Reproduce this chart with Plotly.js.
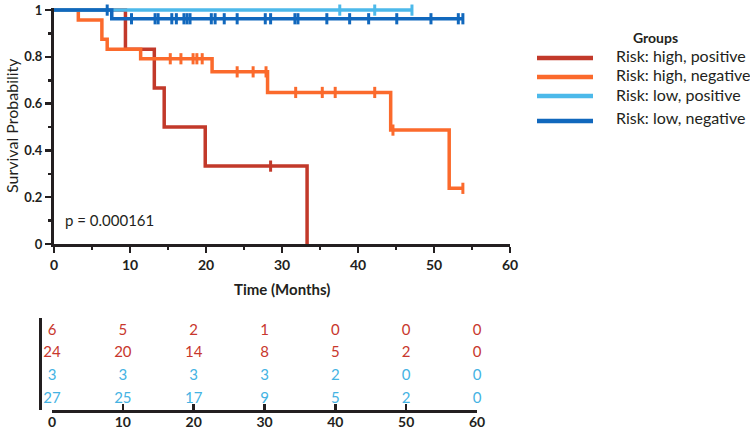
<!DOCTYPE html>
<html>
<head>
<meta charset="utf-8">
<script src="https://cdn.plot.ly/plotly-3.0.1.min.js"></script>
<style>html,body{margin:0;padding:0;background:#fff;}#chart{width:750px;height:430px;}</style>
</head>
<body>
<div id="chart"></div>
<script>
// ---- Data ----
const groupNames = ["Risk: high, positive", "Risk: high, negative", "Risk: low, positive", "Risk: low, negative"];

// Risk: high, positive
const hpTime = [0, 9.4, 13.2, 14.5, 19.9, 33.3];
const hpSurv = [1, 0.833, 0.667, 0.5, 0.333, 0];
const hpCens = [28.5];

// Risk: high, negative
const hnTime = [0, 3.2, 6.3, 7.0, 11.4, 20.8, 28.1, 44.3, 52.0];
const hnSurv = [1, 0.958, 0.875, 0.833, 0.792, 0.736, 0.648, 0.487, 0.238];
const hnCens = [15.3, 16.7, 18.3, 18.8, 19.5, 24.1, 26.2, 27.9, 31.8, 35.3, 37.0, 42.2, 44.6, 53.8];

// Risk: low, positive
const lpTime = [0];
const lpSurv = [1];
const lpCens = [37.6, 42.2, 47.1];

// Risk: low, negative
const lnTime = [0, 7.6];
const lnSurv = [1, 0.963];
const lnCens = [7.0, 10.2, 13.3, 13.7, 15.5, 16.1, 17.1, 17.5, 17.9, 20.7, 21.2, 22.4, 24.1, 27.8, 28.5, 31.7, 32.1, 35.9, 38.9, 41.4, 45.1, 49.6, 53.2, 53.8];

// Numbers at risk table
const riskTimes = [0, 10, 20, 30, 40, 50, 60];
const riskHP = [6, 5, 2, 1, 0, 0, 0];
const riskHN = [24, 20, 14, 8, 5, 2, 0];
const riskLP = [3, 3, 3, 3, 2, 0, 0];
const riskLN = [27, 25, 17, 9, 5, 2, 0];

const pText = "p = 0.000161";

// ---- Styles ----
const colors = ["#c2392a", "#fb6a2c", "#4cb9ea", "#1168bd"];
const tableColors = ["#c8372d", "#c8372d", "#45b3e3", "#45b3e3"];
const FONT = "Lato, 'Open Sans', sans-serif";
const AX = "#231f20";
const W = 750, H = 430;
const px = v => v / W;
const py = v => 1 - v / H;

function survAt(times, surv, t) {
  let s = surv[0];
  for (let i = 0; i < times.length; i++) if (times[i] <= t) s = surv[i];
  return s;
}

const groups = [
  [hpTime, hpSurv, hpCens],
  [hnTime, hnSurv, hnCens],
  [lpTime, lpSurv, lpCens],
  [lnTime, lnSurv, lnCens]
];

const traces = [];
groups.forEach((g, i) => {
  const [t, s, c] = g;
  const endT = Math.max(t[t.length - 1], ...c);
  const xs = t.slice(), ys = s.slice();
  if (endT > t[t.length - 1]) { xs.push(endT); ys.push(s[s.length - 1]); }
  traces.push({
    x: xs, y: ys, type: "scatter", mode: "lines", name: groupNames[i],
    line: { color: colors[i], width: 3.5, shape: "hv" },
    showlegend: false, hoverinfo: "skip", xaxis: "x", yaxis: "y"
  });
  traces.push({
    x: c, y: c.map(v => survAt(t, s, v)), type: "scatter", mode: "markers",
    marker: { symbol: "line-ns", size: 8, line: { color: colors[i], width: 3 } },
    showlegend: false, hoverinfo: "skip", cliponaxis: false, xaxis: "x", yaxis: "y"
  });
});

[riskHP, riskHN, riskLP, riskLN].forEach((row, i) => {
  traces.push({
    x: riskTimes, y: riskTimes.map(() => i + 1), text: row.map(String),
    type: "scatter", mode: "text", textposition: "middle center",
    textfont: { family: FONT, size: 15, color: tableColors[i] },
    showlegend: false, hoverinfo: "skip", cliponaxis: false, xaxis: "x2", yaxis: "y2"
  });
});

const shapes = [];
const annotations = [];
const legendY = [58, 77, 96, 121];
const legendTextY = [55, 75, 95, 117];
groupNames.forEach((n, i) => {
  shapes.push({ type: "line", xref: "paper", yref: "paper", x0: px(537), x1: px(593), y0: py(legendY[i]), y1: py(legendY[i]),
    line: { color: colors[i], width: 4.5 } });
  annotations.push({ xref: "paper", yref: "paper", x: px(614), y: py(legendTextY[i]), xanchor: "left", yanchor: "middle",
    text: n, showarrow: false, font: { family: FONT, size: 16, color: "#231f20" } });
});
annotations.push({ xref: "paper", yref: "paper", x: px(655), y: py(37), xanchor: "center", yanchor: "middle",
  text: "<b>Groups</b>", showarrow: false, font: { family: FONT, size: 14, color: "#231f20" } });
annotations.push({ xref: "paper", yref: "paper", x: px(282), y: py(289), xanchor: "center", yanchor: "middle",
  text: "<b>Time (Months)</b>", showarrow: false, font: { family: FONT, size: 15, color: "#231f20" } });
annotations.push({ xref: "paper", yref: "paper", x: px(11), y: py(126), xanchor: "center", yanchor: "middle", textangle: -90,
  text: "Survival Probability", showarrow: false, font: { family: FONT, size: 16, color: "#231f20" } });
annotations.push({ xref: "paper", yref: "paper", x: px(63), y: py(220), xanchor: "left", yanchor: "middle",
  text: pText, showarrow: false, font: { family: FONT, size: 15, color: "#231f20" } });

const tickFont = { family: FONT, size: 13, color: "#231f20", weight: "bold" };

const layout = {
  width: W, height: H,
  margin: { l: 0, r: 0, t: 0, b: 0 },
  paper_bgcolor: "#fff", plot_bgcolor: "#fff",
  showlegend: false,
  xaxis: {
    domain: [px(54), px(510)], range: [0, 60], anchor: "y",
    showgrid: false, zeroline: false, showline: true, linecolor: AX, linewidth: 3,
    ticks: "outside", tickcolor: AX, tickwidth: 2.5, ticklen: 6, dtick: 10, tick0: 0,
    minor: { dtick: 5, ticks: "outside", ticklen: 3, tickwidth: 2.5, tickcolor: AX },
    tickfont: { family: FONT, size: 14, color: "#231f20", weight: "bold" }, fixedrange: true
  },
  yaxis: {
    domain: [py(244), py(8)], range: [0, 1.009], anchor: "x",
    showgrid: false, zeroline: false, showline: true, linecolor: AX, linewidth: 3,
    ticks: "outside", tickcolor: AX, tickwidth: 2.5, ticklen: 6, dtick: 0.2, tick0: 0,
    minor: { dtick: 0.1, ticks: "outside", ticklen: 3, tickwidth: 2.5, tickcolor: AX },
    tickfont: tickFont, fixedrange: true
  },
  xaxis2: {
    domain: [px(52), px(477)], range: [0, 60], anchor: "y2",
    showgrid: false, zeroline: false, showline: true, linecolor: AX, linewidth: 3,
    ticks: "inside", tickcolor: AX, tickwidth: 2.5, ticklen: 6, dtick: 10, tick0: 0,
    ticklabelstandoff: -3,
    tickfont: { family: FONT, size: 14, color: "#231f20", weight: "bold" }, fixedrange: true
  },
  yaxis2: {
    domain: [py(410), py(318)], range: [4.48, 0.425], anchor: "free", position: px(40),
    showgrid: false, zeroline: false, showline: true, linecolor: AX, linewidth: 3,
    ticks: "", showticklabels: false, fixedrange: true
  },
  shapes: shapes,
  annotations: annotations
};

Plotly.newPlot("chart", traces, layout, { displayModeBar: false, staticPlot: true });
</script>
</body>
</html>
